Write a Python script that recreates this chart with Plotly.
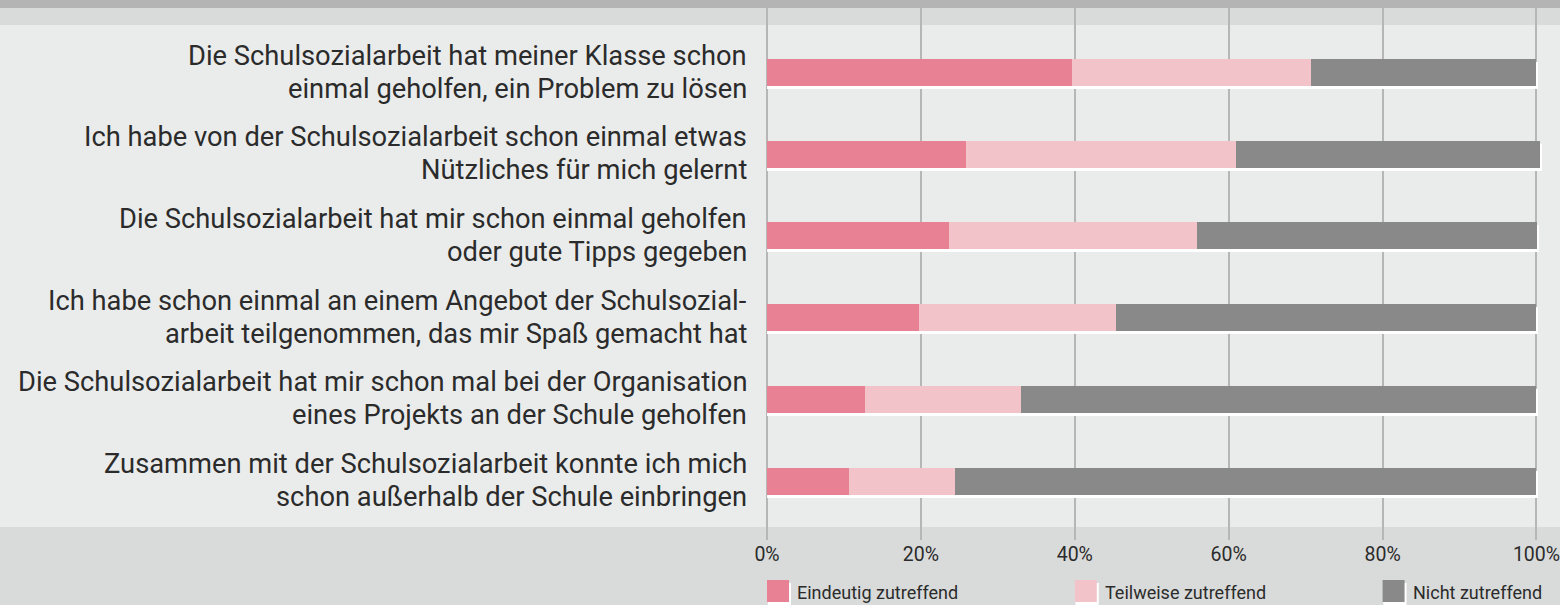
import plotly.graph_objects as go

# Survey statements (top to bottom), each split over two lines
statements = [
    ("Die Schulsozialarbeit hat meiner Klasse schon", "einmal geholfen, ein Problem zu lösen"),
    ("Ich habe von der Schulsozialarbeit schon einmal etwas", "Nützliches für mich gelernt"),
    ("Die Schulsozialarbeit hat mir schon einmal geholfen", "oder gute Tipps gegeben"),
    ("Ich habe schon einmal an einem Angebot der Schulsozial-", "arbeit teilgenommen, das mir Spaß gemacht hat"),
    ("Die Schulsozialarbeit hat mir schon mal bei der Organisation", "eines Projekts an der Schule geholfen"),
    ("Zusammen mit der Schulsozialarbeit konnte ich mich", "schon außerhalb der Schule einbringen"),
]

series_names = ["Eindeutig zutreffend", "Teilweise zutreffend", "Nicht zutreffend"]
eindeutig = [39.7, 25.9, 23.7, 19.8, 12.7, 10.7]
teilweise = [31.0, 35.1, 32.2, 25.6, 20.3, 13.7]
nicht = [29.3, 39.4, 44.2, 54.6, 67.0, 75.6]

tick_vals = [0, 20, 40, 60, 80, 100]
tick_text = ["0%", "20%", "40%", "60%", "80%", "100%"]

colors = ["#e88194", "#f3c3ca", "#898989"]
FONT = "Roboto, Liberation Sans, sans-serif"
TEXT = "#2b2b2b"

W, H = 1560, 605
ML, MR, MT, MB = 767, 12, 8, 65
plot_w = W - ML - MR
plot_h = H - MT - MB
x_max = 101.5
px_per_unit = plot_w / x_max

n = len(statements)
ypos = list(range(n))
y_range = [5.722, -0.7895]
px_per_row = plot_h / (y_range[0] - y_range[1])
bar_w = 27 / px_per_row
shadow_dy = 3 / px_per_row
shadow_dx = 2 / px_per_unit

series = [eindeutig, teilweise, nicht]
totals = [sum(v) for v in zip(*series)]

fig = go.Figure()

# white drop shadow under each stacked bar
fig.add_trace(go.Bar(
    y=ypos, x=[t + shadow_dx for t in totals], base=0, orientation="h",
    width=bar_w, offset=-bar_w / 2 + shadow_dy,
    marker=dict(color="#ffffff", line=dict(width=0)),
    showlegend=False, hoverinfo="skip",
))

bases = [0.0] * n
for name, vals, col in zip(series_names, series, colors):
    fig.add_trace(go.Bar(
        y=ypos, x=vals, base=list(bases), orientation="h", name=name,
        width=bar_w, marker=dict(color=col, line=dict(width=0)),
        showlegend=False,
    ))
    bases = [b + v for b, v in zip(bases, vals)]


def py(y_px):
    """pixel row -> paper y"""
    return (H - MB - y_px) / plot_h


def px(x_px):
    """pixel column -> paper x"""
    return (x_px - ML) / plot_w


shapes = [
    # top strip
    dict(type="rect", xref="paper", yref="paper", x0=px(0), x1=px(W), y0=py(8), y1=py(0),
         fillcolor="#b3b4b3", line=dict(width=0), layer="below"),
    # light panel behind the statements
    dict(type="rect", xref="paper", yref="paper", x0=px(0), x1=px(W), y0=py(527), y1=py(25),
         fillcolor="#eaecec", line=dict(width=0), layer="below"),
]

annotations = []
# statement labels, right aligned next to the axis
for i, (l1, l2) in enumerate(statements):
    for txt, shift in ((l1, 17), (l2, -16)):
        annotations.append(dict(
            x=px(749), y=i, xref="paper", yref="y", text=txt, showarrow=False,
            xanchor="right", yanchor="middle", yshift=shift,
            font=dict(family=FONT, size=27.3, color=TEXT),
        ))

# legend: swatch with shadow + caption, aligned to 0 / 40 / 80 %
legend_x = [0, 40, 80]
sw = 22 / px_per_unit
for name, col, lx in zip(series_names, colors, legend_x):
    shapes.append(dict(type="rect", xref="x", yref="paper",
                       x0=lx + 0.1, x1=lx + sw + shadow_dx, y0=py(605), y1=py(583),
                       fillcolor="#ffffff", line=dict(width=0)))
    shapes.append(dict(type="rect", xref="x", yref="paper",
                       x0=lx, x1=lx + sw, y0=py(602), y1=py(580),
                       fillcolor=col, line=dict(width=0)))
    annotations.append(dict(
        x=lx + 28 / px_per_unit, y=py(592), xref="x", yref="paper", text=name,
        showarrow=False, xanchor="left", yanchor="middle",
        font=dict(family=FONT, size=18, color=TEXT),
    ))

fig.update_layout(
    width=W, height=H,
    margin=dict(l=ML, r=MR, t=MT, b=MB, pad=0, autoexpand=False),
    paper_bgcolor="#d9dbda",
    plot_bgcolor="rgba(0,0,0,0)",
    barmode="overlay",
    bargap=0,
    showlegend=False,
    shapes=shapes,
    annotations=annotations,
    font=dict(family=FONT, color=TEXT),
    xaxis=dict(
        range=[0, x_max], tickvals=tick_vals, ticktext=tick_text,
        showgrid=True, gridcolor="#b5b6b5", gridwidth=2,
        zeroline=True, zerolinecolor="#b5b6b5", zerolinewidth=2,
        showline=False, ticks="", automargin=False, ticklabeloverflow="allow",
        tickfont=dict(family=FONT, size=19.5, color=TEXT),
        fixedrange=True,
    ),
    yaxis=dict(
        range=y_range, tickvals=ypos, showticklabels=False,
        showgrid=False, zeroline=False, showline=False, fixedrange=True,
        automargin=False,
    ),
)

fig.write_html("out.html", config={"displayModeBar": False})
